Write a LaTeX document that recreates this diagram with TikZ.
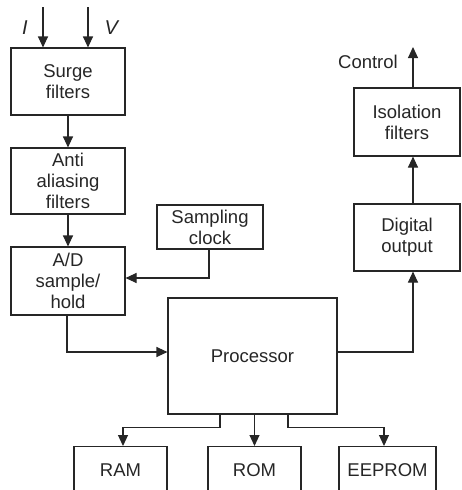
\documentclass[tikz,border=0pt]{standalone}
\usepackage{fontspec}
\setmainfont{Liberation Sans}
\usetikzlibrary{arrows.meta}
\definecolor{ink}{HTML}{262626}
\begin{document}
\begin{tikzpicture}[x=1pt,y=-1pt,
  every node/.style={font=\fontsize{18.5}{21}\selectfont, text=ink},
  blk/.style={draw=ink, line width=1.1pt, align=center, inner sep=1pt},
  arr/.style={draw=ink, line width=1.1pt, -{Triangle[length=11pt,width=10pt]}},
  ln/.style={draw=ink, line width=1.1pt}]
\useasboundingbox (0,0) rectangle (461,490);
\clip (0,0) rectangle (461,490);
\node[blk, minimum width=114pt, minimum height=67pt] (surge) at (68,81.5) {Surge\\filters};
\node[blk, minimum width=114pt, minimum height=66pt] (anti) at (68,181) {Anti\\aliasing\\filters};
\node[blk, minimum width=114pt, minimum height=68pt] (ad) at (68,281) {A/D\\sample/\\hold};
\node[blk, minimum width=106pt, minimum height=44pt] (clock) at (210,227) {Sampling\\clock};
\node[blk, minimum width=169pt, minimum height=116pt] (proc) at (252.5,356) {Processor};
\node[blk, minimum width=106pt, minimum height=68pt] (iso) at (407,122) {Isolation\\filters};
\node[blk, minimum width=106pt, minimum height=67pt] (dig) at (407,237.5) {Digital\\output};
\node[blk, minimum width=93pt, minimum height=48pt, anchor=north] (ram) at (120.5,446) {RAM};
\node[blk, minimum width=93pt, minimum height=48pt, anchor=north] (rom) at (254.5,446) {ROM};
\node[blk, minimum width=97pt, minimum height=48pt, anchor=north] (eeprom) at (387.5,446) {EEPROM};
\node[font=\fontsize{20}{22}\selectfont] (ilab) at (25,28) {\textit{I}};
\node[font=\fontsize{20}{22}\selectfont] (vlab) at (112,28) {\textit{V}};
\node[anchor=east, inner sep=0pt] (ctrllab) at (398,62) {Control};
\coordinate (iin) at (43,7);
\coordinate (vin) at (88,7);
\coordinate (ctrl) at (413,47);
\draw[arr] (iin) -- (iin |- surge.north);
\draw[arr] (vin) -- (vin |- surge.north);
\draw[arr] (surge) -- (anti);
\draw[arr] (anti) -- (ad);
\draw[arr] ([xshift=-1pt]clock.south) |- ([yshift=3pt]ad.east);
\draw[arr] ([xshift=-1pt]ad.south) |- ([yshift=4pt]proc.west);
\draw[arr] ([yshift=4pt]proc.east) -| ([xshift=6pt]dig.south);
\draw[arr] ([xshift=6pt]dig.north) -- ([xshift=6pt]iso.south);
\draw[arr] ([xshift=6pt]iso.north) -- (ctrl);
\draw[arr] ([xshift=-32.5pt]proc.south) -- ++(0,13) -| ([xshift=2.5pt]ram.north);
\draw[arr] (proc.south -| rom.north) -- (rom.north);
\draw[arr] ([xshift=35.5pt]proc.south) -- ++(0,13) -| ([xshift=-3.5pt]eeprom.north);
\end{tikzpicture}
\end{document}
